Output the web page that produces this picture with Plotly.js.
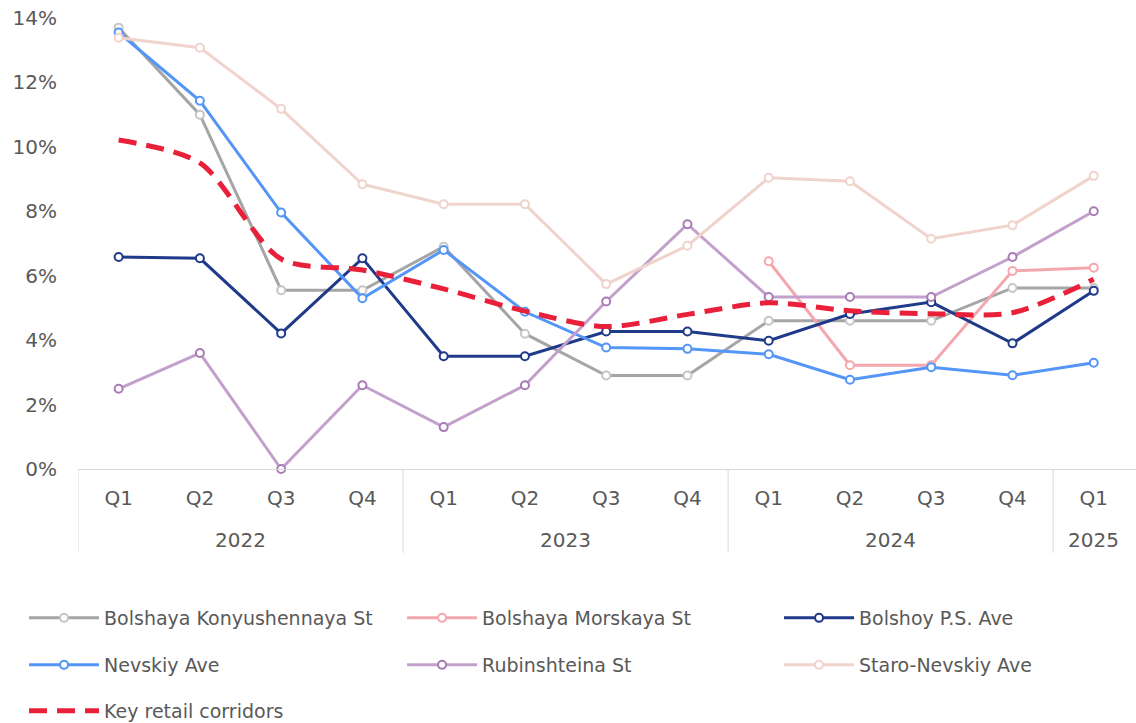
<!DOCTYPE html>
<html>
<head>
<meta charset="utf-8">
<script src="https://cdn.plot.ly/plotly-3.0.1.min.js"></script>
<style>html,body{margin:0;padding:0;background:#fff;}#chart{width:1136px;height:723px;}</style>
</head>
<body>
<div id="chart"></div>
<script>
const years = ['2022','2022','2022','2022','2023','2023','2023','2023','2024','2024','2024','2024','2025'];
const quarters = ['Q1','Q2','Q3','Q4','Q1','Q2','Q3','Q4','Q1','Q2','Q3','Q4','Q1'];

const bolshayaKonyushennaya = [13.7, 11.0, 5.55, 5.55, 6.9, 4.2, 2.9, 2.9, 4.6, 4.6, 4.6, 5.62, 5.62];
const bolshayaMorskaya = [null, null, null, null, null, null, null, null, 6.45, 3.22, 3.22, 6.15, 6.25];
const bolshoyPS = [6.58, 6.54, 4.21, 6.54, 3.5, 3.5, 4.27, 4.27, 3.98, 4.81, 5.18, 3.9, 5.53];
const nevskiy = [13.55, 11.43, 7.96, 5.3, 6.8, 4.88, 3.77, 3.73, 3.56, 2.77, 3.16, 2.91, 3.3];
const rubinshteina = [2.49, 3.6, 0.0, 2.6, 1.3, 2.6, 5.2, 7.6, 5.34, 5.34, 5.34, 6.58, 8.0];
const staroNevskiy = [13.39, 13.08, 11.18, 8.84, 8.22, 8.22, 5.74, 6.93, 9.04, 8.93, 7.15, 7.57, 9.1];
const keyRetail = [10.21, 9.5, 6.52, 6.18, 5.59, 4.9, 4.42, 4.8, 5.16, 4.91, 4.82, 4.85, 5.89];

const names = ['Bolshaya Konyushennaya St','Bolshaya Morskaya St','Bolshoy P.S. Ave','Nevskiy Ave','Rubinshteina St','Staro-Nevskiy Ave','Key retail corridors'];
const yTicks = [0, 2, 4, 6, 8, 10, 12, 14];

const idx = quarters.map((q, i) => i);
const pct = v => v == null ? null : v / 100;

function lineTrace(name, vals, lineColor, markerColor, legend) {
  return {
    type: 'scatter', mode: 'lines+markers', name: name,
    x: idx, y: vals.map(pct),
    line: {color: lineColor, width: 3},
    marker: {symbol: 'circle', size: 8, color: '#ffffff', line: {color: markerColor, width: 2}},
    cliponaxis: false, legend: legend, connectgaps: false
  };
}

const data = [
  lineTrace(names[0], bolshayaKonyushennaya, '#a5a5a5', '#c6c6c6', 'legend'),
  lineTrace(names[1], bolshayaMorskaya, '#f5a7ae', '#f5a7ae', 'legend2'),
  lineTrace(names[2], bolshoyPS, '#203a8a', '#203a8a', 'legend3'),
  lineTrace(names[3], nevskiy, '#5495f8', '#5495f8', 'legend4'),
  lineTrace(names[4], rubinshteina, '#c3a0cc', '#a87bb7', 'legend5'),
  lineTrace(names[5], staroNevskiy, '#efd3cc', '#efd3cc', 'legend6'),
  {
    type: 'scatter', mode: 'lines', name: names[6],
    x: idx, y: keyRetail.map(pct),
    line: {color: '#e8203a', width: 5, dash: '18px,10px', shape: 'spline', smoothing: 0.8},
    cliponaxis: false, legend: 'legend7'
  }
];

const font = {family: '"DejaVu Sans", Verdana, sans-serif', size: 20, color: '#595959'};
const legFont = {family: '"DejaVu Sans", Verdana, sans-serif', size: 19, color: '#595959'};
function leg(x, y) {
  return {orientation: 'h', x: x, xanchor: 'left', y: y, yanchor: 'middle',
    itemwidth: 70, font: legFont, bgcolor: 'rgba(0,0,0,0)'};
}

// year group labels and dividers derived from the years array
const groups = [];
years.forEach((yr, i) => {
  if (i === 0 || yr !== years[i - 1]) groups.push({year: yr, start: i, end: i});
  else groups[groups.length - 1].end = i;
});
const annotations = groups.map(g => ({
  x: (g.start + g.end) / 2, xref: 'x', y: -0.158, yref: 'paper',
  text: g.year, showarrow: false, font: font, xanchor: 'center', yanchor: 'middle'
}));
const shapes = groups.map(g => ({
  type: 'line', xref: 'x', yref: 'paper', x0: g.start - 0.5, x1: g.start - 0.5,
  y0: 0, y1: -0.186, line: {color: '#d9d9d9', width: 1}
}));

const L1 = -0.3304, L2 = -0.4346, L3 = -0.5366;
const C1 = -0.051, C2 = 0.3063, C3 = 0.6626;

const layout = {
  width: 1136, height: 723,
  margin: {l: 78, r: 0, t: 18, b: 254, autoexpand: false},
  paper_bgcolor: '#ffffff', plot_bgcolor: '#ffffff',
  font: font,
  showlegend: true,
  xaxis: {
    range: [-0.5, 12.52], tickvals: idx, ticktext: quarters,
    showgrid: false, zeroline: false, automargin: false,
    showline: true, linecolor: '#d9d9d9', linewidth: 1,
    ticks: '', tickfont: font, ticklabelstandoff: 11
  },
  yaxis: {
    range: [0, 0.14], tickvals: yTicks.map(pct),
    tickformat: '.0%', showgrid: false, zeroline: false, showline: false, automargin: false,
    ticks: '', tickfont: font, ticklabelstandoff: 20
  },
  annotations: annotations,
  shapes: shapes,
  legend: leg(C1, L1),
  legend2: leg(C2, L1),
  legend3: leg(C3, L1),
  legend4: leg(C1, L2),
  legend5: leg(C2, L2),
  legend6: leg(C3, L2),
  legend7: leg(C1, L3)
};

Plotly.newPlot('chart', data, layout, {displayModeBar: false, staticPlot: true});
</script>
</body>
</html>
